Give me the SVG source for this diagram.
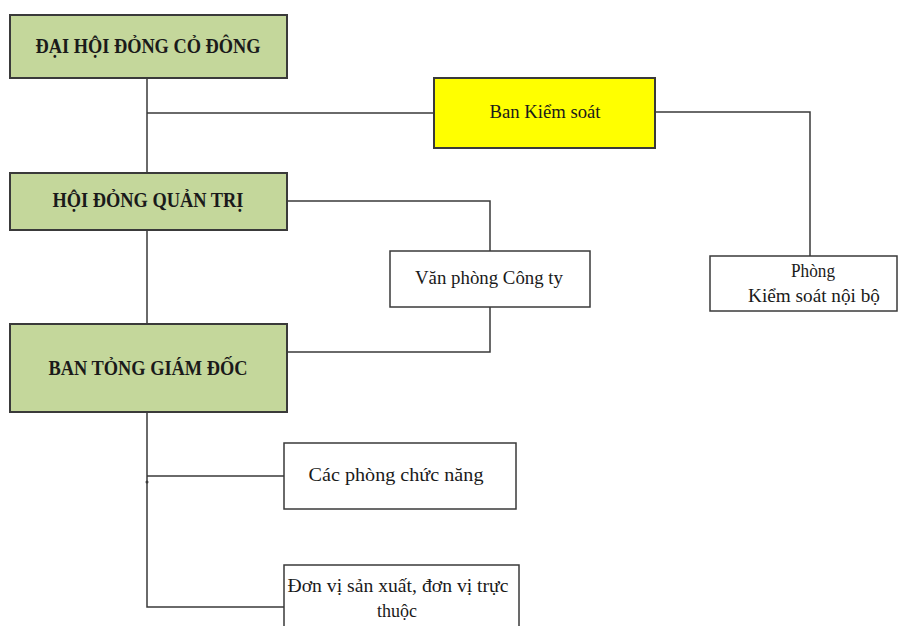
<svg xmlns="http://www.w3.org/2000/svg" width="899" height="626" viewBox="0 0 899 626">
<style>
.g{fill:#c4d79b;stroke:#3a3a3a;stroke-width:2}
.y{fill:#ffff00;stroke:#3a3a3a;stroke-width:2}
.w{fill:#ffffff;stroke:#3a3a3a;stroke-width:1.5}
.tb{font-family:"Liberation Serif","Times New Roman",serif;font-weight:bold;font-size:21px;fill:#1a1a1a;text-anchor:middle;dominant-baseline:central}
.t{font-family:"Liberation Serif","Times New Roman",serif;font-size:18px;fill:#1a1a1a;text-anchor:middle;dominant-baseline:central}
.c{fill:none;stroke:#3a3a3a;stroke-width:1.5}
</style>
<rect width="899" height="626" fill="#ffffff"/>
<g id="connectors">
<path class="c" d="M147 78V173M147 113H434M147 230V324M147 412V607H284M147 476H284"/>
<path class="c" d="M655 112H810V256"/>
<path class="c" d="M287 201H490V251M490 307V352H287"/>
<circle cx="147" cy="482" r="1.5" fill="#3a3a3a"/>
</g>
<g id="dhdcd">
<rect class="g" x="10" y="15" width="277" height="63"/>
<text class="tb" x="148" y="46" textLength="225" lengthAdjust="spacingAndGlyphs">ĐẠI HỘI ĐỎNG CỎ ĐÔNG</text>
</g>
<g id="bks">
<rect class="y" x="434" y="78" width="221" height="70"/>
<text class="t" x="545" y="112" font-size="19" textLength="111" lengthAdjust="spacingAndGlyphs">Ban Kiểm soát</text>
</g>
<g id="hdqt">
<rect class="g" x="10" y="173" width="277" height="57"/>
<text class="tb" x="148" y="200" textLength="191" lengthAdjust="spacingAndGlyphs">HỘI ĐỎNG QUẢN TRỊ</text>
</g>
<g id="vpct">
<rect class="w" x="390" y="251" width="200" height="56"/>
<text class="t" x="489" y="278" textLength="148" lengthAdjust="spacingAndGlyphs">Văn phòng Công ty</text>
</g>
<g id="pksnb">
<rect class="w" x="710" y="256" width="187" height="55"/>
<text class="t" x="813" y="271" textLength="44" lengthAdjust="spacingAndGlyphs">Phòng</text>
<text class="t" x="814" y="296" textLength="132" lengthAdjust="spacingAndGlyphs">Kiểm soát nội bộ</text>
</g>
<g id="btgd">
<rect class="g" x="10" y="324" width="277" height="88"/>
<text class="tb" x="148" y="368" textLength="199" lengthAdjust="spacingAndGlyphs">BAN TỎNG GIÁM ĐỐC</text>
</g>
<g id="cpcn">
<rect class="w" x="284" y="443" width="232" height="66"/>
<text class="t" x="396" y="475" textLength="175" lengthAdjust="spacingAndGlyphs">Các phòng chức năng</text>
</g>
<g id="dvsx">
<rect class="w" x="284" y="565" width="235" height="70"/>
<text class="t" x="398" y="586" textLength="221" lengthAdjust="spacingAndGlyphs">Đơn vị sản xuất, đơn vị trực</text>
<text class="t" x="397" y="611" textLength="40" lengthAdjust="spacingAndGlyphs">thuộc</text>
</g>
</svg>
